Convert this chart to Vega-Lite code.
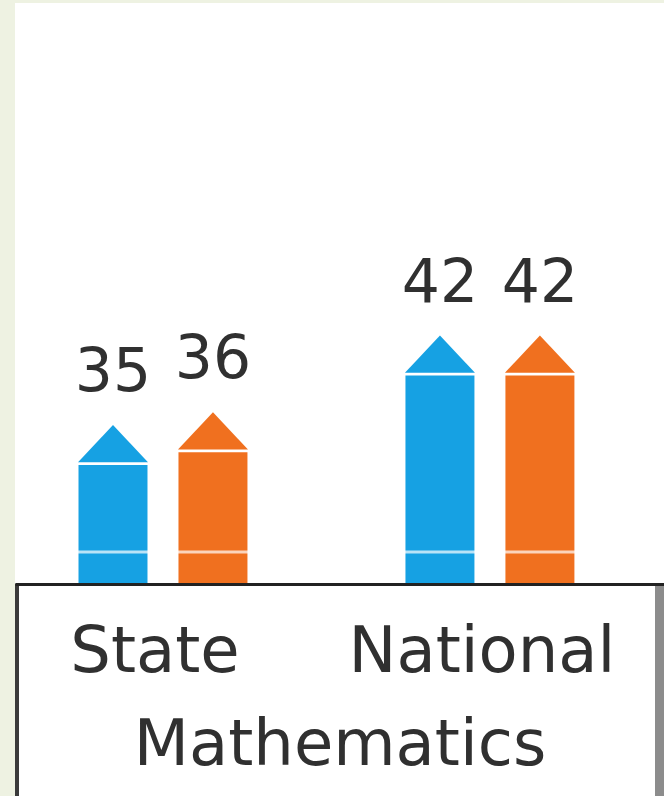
{
  "$schema": "https://vega.github.io/schema/vega-lite/v6.json",
  "width": 649,
  "height": 793,
  "autosize": "none",
  "padding": {"left": 15, "top": 3, "right": 0, "bottom": 0},
  "background": "#eef2e2",
  "config": {"view": {"fill": "white", "stroke": null}, "font": "DejaVu Sans"},
  "data": {"values": [
    {"scope": "State", "group": "Group A", "score": 35},
    {"scope": "State", "group": "Group B", "score": 36},
    {"scope": "National", "group": "Group A", "score": 42},
    {"scope": "National", "group": "Group B", "score": 42}
  ]},
  "layer": [
    {
      "mark": {"type": "rule", "stroke": "#3a3a3a", "strokeWidth": 4, "xOffset": 2},
      "encoding": {
        "x": {"value": 0},
        "y": {"datum": 22.58, "type": "quantitative", "scale": {"domain": [6, 68], "nice": false, "zero": false}, "axis": null},
        "y2": {"datum": 4}
      }
    },
    {
      "mark": {"type": "rule", "stroke": "#8c8c8c", "strokeWidth": 9, "xOffset": -4.5},
      "encoding": {
        "x": {"value": "width"},
        "y": {"datum": 22.58, "type": "quantitative"},
        "y2": {"datum": 4}
      }
    },
    {
      "encoding": {
        "x": {
          "field": "scope", "type": "nominal", "sort": ["State", "National"],
          "scale": {"paddingInner": 0.205, "paddingOuter": 0.095, "align": 0.29},
          "axis": {
            "title": "Mathematics", "orient": "bottom", "offset": -212,
            "labelAngle": 0, "labelFont": "DejaVu Sans", "labelFontSize": 64, "labelColor": "#303030",
            "labelPadding": 36, "labelOffset": -8, "labelLimit": 0, "ticks": false, "tickSize": 0,
            "domainColor": "#222222", "domainWidth": 3, "zindex": 1,
            "titleFont": "DejaVu Sans", "titleFontSize": 64, "titleFontWeight": "normal", "titleColor": "#303030",
            "titlePadding": 29
          }
        },
        "xOffset": {"field": "group", "type": "nominal", "sort": ["Group A", "Group B"], "scale": {"paddingInner": 0.31, "paddingOuter": 0.455}},
        "color": {"field": "group", "type": "nominal", "scale": {"domain": ["Group A", "Group B"], "range": ["#16a1e3", "#f0701f"]}, "legend": null}
      },
      "layer": [
        {
          "mark": {"type": "bar", "yOffset": 40},
          "encoding": {
            "y": {"field": "score", "type": "quantitative", "axis": null},
            "y2": {"datum": 22.58}
          }
        },
        {
          "mark": {"type": "tick", "color": "white", "thickness": 3, "size": 72},
          "encoding": {
            "y": {"datum": 25.08, "type": "quantitative"},
            "color": {"value": "white"}
          }
        },
        {
          "mark": {"type": "point", "shape": "M-1,1.06L0,0L1,1.06Z", "size": 4900, "filled": true, "opacity": 1, "strokeWidth": 0},
          "encoding": {
            "y": {"field": "score", "type": "quantitative"}
          }
        },
        {
          "mark": {"type": "text", "dy": -34, "baseline": "alphabetic", "fontSize": 60, "font": "DejaVu Sans", "color": "#303030"},
          "encoding": {
            "y": {"field": "score", "type": "quantitative"},
            "text": {"field": "score", "type": "quantitative"},
            "color": {"value": "#303030"}
          }
        }
      ]
    }
  ]
}
